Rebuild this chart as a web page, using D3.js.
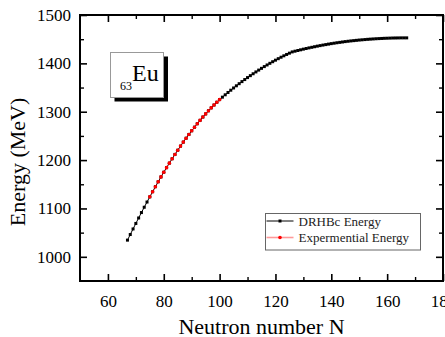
<!DOCTYPE html>
<html>
<head>
<meta charset="utf-8">
<script src="https://cdn.jsdelivr.net/npm/d3@7"></script>
<style>
  html, body { margin: 0; padding: 0; background: #fff; }
  svg { display: block; }
  .axis path, .axis line { stroke: #000; }
</style>
</head>
<body>
<div id="chart"></div>
<script>
// DRHBc binding energies for 63Eu
const neutronN = [
  67, 68, 69, 70, 71, 72, 73, 74, 75, 76, 77, 78, 79, 80, 81, 82, 83, 84, 85, 86,
  87, 88, 89, 90, 91, 92, 93, 94, 95, 96, 97, 98, 99, 100, 101, 102, 103, 104, 105, 106,
  107, 108, 109, 110, 111, 112, 113, 114, 115, 116, 117, 118, 119, 120, 121, 122, 123, 124, 125, 126,
  127, 128, 129, 130, 131, 132, 133, 134, 135, 136, 137, 138, 139, 140, 141, 142, 143, 144, 145, 146,
  147, 148, 149, 150, 151, 152, 153, 154, 155, 156, 157, 158, 159, 160, 161, 162, 163, 164, 165, 166, 167
];
const drhbcEnergy = [
  1034.5, 1046.1, 1057.6, 1069.0, 1080.3, 1091.5, 1102.5, 1113.3, 1124.0, 1134.6,
  1145.0, 1155.2, 1165.2, 1174.9, 1184.4, 1193.7, 1202.8, 1211.7, 1220.4, 1228.9,
  1237.2, 1245.2, 1253.0, 1260.6, 1268.0, 1275.2, 1282.2, 1289.0, 1295.5, 1301.9,
  1308.0, 1313.9, 1319.6, 1325.1, 1330.1, 1335.0, 1339.8, 1344.5, 1349.1, 1353.6,
  1358.0, 1362.3, 1366.5, 1370.6, 1374.6, 1378.5, 1382.3, 1386.1, 1389.7, 1393.3,
  1396.7, 1400.1, 1403.4, 1406.6, 1409.7, 1412.7, 1415.6, 1418.4, 1421.1, 1423.7,
  1425.2, 1426.6, 1428.0, 1429.4, 1430.7, 1432.0, 1433.2, 1434.4, 1435.6, 1436.7,
  1437.8, 1438.8, 1439.8, 1440.8, 1441.7, 1442.6, 1443.4, 1444.2, 1445.0, 1445.7,
  1446.4, 1447.0, 1447.6, 1448.2, 1448.7, 1449.2, 1449.7, 1450.1, 1450.5, 1450.9,
  1451.2, 1451.5, 1451.8, 1452.0, 1452.2, 1452.4, 1452.5, 1452.6, 1452.7, 1452.7, 1452.7
];
// experimental energies
const expN = [
  75, 76, 77, 78, 79, 80, 81, 82, 83, 84, 85, 86, 87,
  88, 89, 90, 91, 92, 93, 94, 95, 96, 97, 98, 99, 100
];
const expEnergy = [
  1124.0, 1134.6, 1145.0, 1155.2, 1165.2, 1174.9, 1184.4, 1193.7, 1202.8, 1211.7, 1220.4, 1228.9, 1237.2,
  1245.2, 1253.0, 1260.6, 1268.0, 1275.2, 1282.2, 1289.0, 1295.5, 1301.9, 1308.0, 1313.9, 1319.6, 1325.1
];
const xMajorTicks = [60, 80, 100, 120, 140, 160, 180];
const xMinorTicks = [70, 90, 110, 130, 150, 170];
const yMajorTicks = [1000, 1100, 1200, 1300, 1400, 1500];
const yMinorTicks = [1050, 1150, 1250, 1350, 1450];
const legendLabels = ["DRHBc Energy", "Expermential Energy"];

const WIDTH = 445;
const HEIGHT = 337;
const MARGIN = { top: 15, right: 2, bottom: 56, left: 80 };
const FONT = '"Liberation Serif", "Times New Roman", Times, serif';

const svg = d3
  .select("#chart")
  .append("svg")
  .attr("width", WIDTH)
  .attr("height", HEIGHT)
  .attr("font-family", FONT);

const x = d3.scaleLinear().domain([50, 180]).range([MARGIN.left, WIDTH - MARGIN.right]);
const y = d3.scaleLinear().domain([950, 1500]).range([HEIGHT - MARGIN.bottom, MARGIN.top]);

const x0 = x.range()[0], x1 = x.range()[1];
const y0 = y.range()[0], y1 = y.range()[1];

function addAxis(axis, transform, width) {
  const g = svg.append("g").attr("class", "axis").attr("transform", transform).call(axis);
  g.attr("font-family", FONT).attr("font-size", 17);
  g.select(".domain").remove();
  g.selectAll(".tick line").attr("stroke-width", width);
  g.selectAll(".tick text").attr("fill", "#000");
  return g;
}

// major + minor ticks, pointing inwards on all four sides
addAxis(d3.axisBottom(x).tickValues(xMajorTicks).tickSize(-7).tickPadding(14).tickFormat(d3.format("d")), `translate(0,${y0})`, 1.6);
addAxis(d3.axisBottom(x).tickValues(xMinorTicks).tickSize(-4).tickFormat(""), `translate(0,${y0})`, 1.4);
addAxis(d3.axisTop(x).tickValues(xMajorTicks).tickSize(-7).tickFormat(""), `translate(0,${y1})`, 1.6);
addAxis(d3.axisTop(x).tickValues(xMinorTicks).tickSize(-4).tickFormat(""), `translate(0,${y1})`, 1.4);
addAxis(d3.axisLeft(y).tickValues(yMajorTicks).tickSize(-7).tickPadding(9).tickFormat(d3.format("d")), `translate(${x0},0)`, 1.6);
addAxis(d3.axisLeft(y).tickValues(yMinorTicks).tickSize(-4).tickFormat(""), `translate(${x0},0)`, 1.4);
addAxis(d3.axisRight(y).tickValues(yMajorTicks).tickSize(-7).tickFormat(""), `translate(${x1},0)`, 1.6);
addAxis(d3.axisRight(y).tickValues(yMinorTicks).tickSize(-4).tickFormat(""), `translate(${x1},0)`, 1.4);

// frame
svg
  .append("rect")
  .attr("x", x0)
  .attr("y", y1)
  .attr("width", x1 - x0)
  .attr("height", y0 - y1)
  .attr("fill", "none")
  .attr("stroke", "#000")
  .attr("stroke-width", 2);

// axis titles
svg
  .append("text")
  .attr("x", (x0 + x1) / 2)
  .attr("y", 334)
  .attr("text-anchor", "middle")
  .attr("font-family", FONT)
  .attr("font-size", 22)
  .text("Neutron number N");

svg
  .append("text")
  .attr("transform", "rotate(-90)")
  .attr("x", -162)
  .attr("y", 25)
  .attr("text-anchor", "middle")
  .attr("font-family", FONT)
  .attr("font-size", 22)
  .text("Energy (MeV)");

// element label box
svg.append("rect").attr("x", 114.5).attr("y", 56.5).attr("width", 53.5).attr("height", 45).attr("fill", "#000");
svg
  .append("rect")
  .attr("x", 110.5)
  .attr("y", 52.5)
  .attr("width", 53)
  .attr("height", 45)
  .attr("fill", "#fff")
  .attr("stroke", "#999")
  .attr("stroke-width", 1);
const eu = svg.append("text").attr("x", 120).attr("y", 81).attr("font-family", FONT);
eu.append("tspan").attr("font-size", 12).attr("dy", 9).text("63");
eu.append("tspan").attr("font-size", 24).attr("dy", -9).text("Eu");

// series
const drhbc = neutronN.map((n, i) => ({ n, e: drhbcEnergy[i] }));
const exper = expN.map((n, i) => ({ n, e: expEnergy[i] }));

const line = d3
  .line()
  .x((d) => x(d.n))
  .y((d) => y(d.e));

svg.append("path").datum(drhbc).attr("d", line).attr("fill", "none").attr("stroke", "#000").attr("stroke-width", 1);

svg
  .append("g")
  .selectAll("rect")
  .data(drhbc)
  .join("rect")
  .attr("x", (d) => x(d.n) - 1.5)
  .attr("y", (d) => y(d.e) - 1.5)
  .attr("width", 3)
  .attr("height", 3)
  .attr("fill", "#000");

svg
  .append("path")
  .datum(exper)
  .attr("d", line)
  .attr("fill", "none")
  .attr("stroke", "#ff0000")
  .attr("stroke-opacity", 0.35)
  .attr("stroke-width", 1);

svg
  .append("g")
  .selectAll("circle")
  .data(exper)
  .join("circle")
  .attr("cx", (d) => x(d.n))
  .attr("cy", (d) => y(d.e))
  .attr("r", 1.8)
  .attr("fill", "#ff0000");

// legend
const legend = svg.append("g").attr("transform", "translate(265.5,213.5)");
legend
  .append("rect")
  .attr("width", 155)
  .attr("height", 36.5)
  .attr("fill", "#fff")
  .attr("stroke", "#666")
  .attr("stroke-width", 1);

const rows = legend
  .selectAll("g")
  .data(legendLabels)
  .join("g")
  .attr("transform", (_, i) => `translate(0,${7.5 + i * 16.5})`);

rows
  .append("line")
  .attr("x1", 1)
  .attr("x2", 28)
  .attr("stroke", (_, i) => (i === 0 ? "#000" : "#ff9999"))
  .attr("stroke-width", (_, i) => (i === 0 ? 1 : 1.6));

rows.each(function (_, i) {
  const g = d3.select(this);
  if (i === 0) {
    g.append("rect").attr("x", 13).attr("y", -1.5).attr("width", 3).attr("height", 3).attr("fill", "#000");
  } else {
    g.append("circle").attr("cx", 14.5).attr("r", 1.8).attr("fill", "#ff0000");
  }
});

rows
  .append("text")
  .attr("x", 33)
  .attr("y", 4.5)
  .attr("font-family", FONT)
  .attr("font-size", 13)
  .attr("fill", "#222")
  .text((d) => d);
</script>
</body>
</html>
